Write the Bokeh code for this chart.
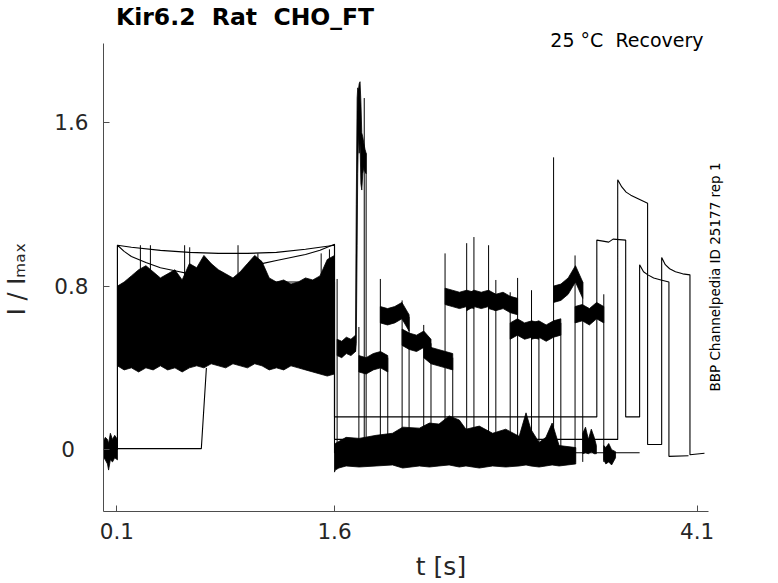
from bokeh.plotting import figure
from bokeh.models import Range1d, FixedTicker, Label
from bokeh.embed import file_html
from bokeh.resources import INLINE

FONT = "DejaVu Sans"
NB = "\u00a0"

# ---------------- data ----------------
x_ticks = [0.1, 1.6, 4.1]
y_ticks = [0, 0.8, 1.6]
x_axis_span = (0.0078, 4.178)
y_axis_span = (-0.3027, 1.986)

# holding noise before the prepulse (0 - 0.1 s)
pre_t  = [0.008, 0.02, 0.035, 0.043, 0.055, 0.07, 0.085, 0.104]
pre_hi = [0.04, 0.06, 0.05, 0.03, 0.08, 0.05, 0.07, 0.05]
pre_lo = [-0.04, -0.05, -0.07, -0.10, -0.05, -0.06, -0.04, -0.05]

# envelope of the noisy prepulse sweeps (0.1 - 1.6 s)
pp_t  = [0.104, 0.15, 0.2, 0.25, 0.3, 0.35, 0.4, 0.45, 0.5, 0.55, 0.6, 0.65, 0.7, 0.75, 0.8, 0.85,
         0.9, 0.95, 1.0, 1.05, 1.1, 1.15, 1.2, 1.25, 1.3, 1.35, 1.4, 1.45, 1.5, 1.55, 1.6]
pp_hi = [0.80, 0.82, 0.85, 0.88, 0.90, 0.87, 0.84, 0.86, 0.88, 0.83, 0.91, 0.89, 0.95, 0.91, 0.88, 0.86,
         0.84, 0.87, 0.91, 0.95, 0.92, 0.84, 0.82, 0.83, 0.81, 0.82, 0.84, 0.83, 0.85, 0.93, 0.95]
pp_lo = [0.41, 0.39, 0.40, 0.38, 0.40, 0.39, 0.41, 0.39, 0.40, 0.38, 0.40, 0.41, 0.40, 0.42, 0.41, 0.40,
         0.42, 0.41, 0.40, 0.42, 0.41, 0.39, 0.40, 0.39, 0.41, 0.40, 0.39, 0.38, 0.37, 0.36, 0.37]

# thin transients on top of the prepulse
pp_spike_t   = [0.262, 0.331, 0.567, 0.602, 0.935, 1.072, 1.508, 1.565]
pp_spike_top = [1.0, 1.0, 1.0, 0.99, 1.0, 0.96, 0.96, 0.98]

# noisy holding current after the prepulse
bl_t  = [1.6, 1.605, 1.63, 1.68, 1.77, 1.887, 2.0, 2.07, 2.185, 2.254, 2.32, 2.39, 2.46, 2.506,
         2.598, 2.69, 2.78, 2.873, 2.92, 2.953, 3.01, 3.057, 3.10, 3.148, 3.263]
bl_hi = [0.03, 0.03, 0.04, 0.06, 0.055, 0.07, 0.08, 0.11, 0.105, 0.13, 0.125, 0.165, 0.145, 0.10,
         0.115, 0.08, 0.10, 0.065, 0.18, 0.10, 0.035, 0.06, 0.13, 0.02, 0.01]
bl_lo = [-0.11, -0.10, -0.09, -0.08, -0.085, -0.08, -0.075, -0.09, -0.08, -0.085, -0.08, -0.075,
         -0.085, -0.08, -0.09, -0.08, -0.085, -0.08, -0.075, -0.08, -0.085, -0.08, -0.075, -0.08, -0.07]

# holding noise after the last noisy test pulses
b11_t  = [3.311, 3.33, 3.35, 3.37, 3.39, 3.405]
b11_hi = [0.08, 0.11, 0.05, 0.10, 0.06, 0.02]
b11_lo = [-0.02, -0.015, -0.02, -0.01, -0.02, -0.02]
b12_t  = [3.456, 3.47, 3.49, 3.51, 3.537]
b12_hi = [0.02, 0.01, 0.03, 0.0, -0.01]
b12_lo = [-0.05, -0.07, -0.06, -0.075, -0.04]

# artefact on the first test pulse
art_t  = [1.745, 1.750, 1.756, 1.760, 1.765, 1.770, 1.776, 1.782, 1.788, 1.795, 1.802, 1.81, 1.818]
art_hi = [0.60, 1.20, 1.72, 1.77, 1.76, 1.79, 1.80, 1.70, 1.55, 1.53, 1.50, 1.47, 1.45]
art_lo = [0.48, 0.52, 1.00, 1.35, 1.55, 1.45, 1.50, 1.30, 1.27, 1.35, 1.38, 1.36, 1.35]
art_line_t = [1.805]
art_line_top = [1.72]

# noisy test pulses (12 sweeps)
p2_start = [1.618, 1.768, 1.916, 2.066, 2.215, 2.362, 2.511, 2.662, 2.811, 2.958, 3.110, 3.258]
p2_end   = [1.818, 1.967, 2.114, 2.265, 2.415, 2.561, 2.712, 2.862, 3.009, 3.160, 3.311, 3.456]
p2_level = [
    [0.50, 0.49, 0.51, 0.50, 0.52],
    [0.42, 0.41, 0.43, 0.44, 0.42],
    [0.66, 0.65, 0.66, 0.68, 0.62],
    [0.55, 0.53, 0.52, 0.54, 0.50],
    [0.49, 0.46, 0.45, 0.44, 0.43],
    [0.75, 0.74, 0.73, 0.74, 0.73],
    [0.72, 0.74, 0.73, 0.74, 0.72],
    [0.73, 0.72, 0.73, 0.71, 0.70],
    [0.58, 0.60, 0.58, 0.59, 0.58],
    [0.58, 0.59, 0.57, 0.59, 0.60],
    [0.76, 0.77, 0.80, 0.86, 0.78],
    [0.66, 0.67, 0.65, 0.68, 0.66],
]
p2_noise = 0.04
p2_start_peak = [0.835, 0.60, 0.835, 0.73, 0.61, 0.96, 1.01, 1.0, 0.77, 0.78, 1.43, 0.95]
p2_end_top    = [1.45, 0.45, 0.65, 0.52, 0.45, 1.04, 0.83, 0.84, 0.62, 0.62, 0.82, 0.76]
trans_bottom = -0.06

# clean sweeps
swA_t = [0.104, 0.104, 0.2, 0.4, 0.6, 0.8, 1.0, 1.2, 1.4, 1.6, 1.6, 3.408, 3.408, 3.45, 3.49, 3.52,
         3.607, 3.607, 3.703, 3.703, 3.73, 3.76, 3.80, 3.85, 3.905, 3.905, 4.04]
swA_v = [0.0, 1.0, 0.99, 0.975, 0.965, 0.96, 0.96, 0.965, 0.98, 1.0, 0.16, 0.16, 1.025, 1.02, 1.015, 1.03,
         1.025, 0.16, 0.16, 0.905, 0.87, 0.855, 0.84, 0.83, 0.82, -0.033, -0.03]
swB_t = [1.05, 1.1, 1.2, 1.3, 1.4, 1.5, 1.6, 1.6, 3.552, 3.552, 3.58, 3.61, 3.642, 3.70, 3.758, 3.758,
         3.855, 3.855, 3.88, 3.91, 3.95, 4.00, 4.05, 4.05, 4.15]
swB_v = [0.90, 0.91, 0.925, 0.94, 0.955, 0.975, 1.005, 0.05, 0.05, 1.32, 1.285, 1.26, 1.245, 1.225, 1.205,
         0.025, 0.025, 0.94, 0.905, 0.885, 0.87, 0.86, 0.855, -0.025, -0.018]
swC_t = [0.104, 0.104, 0.15, 0.2, 0.3, 0.4, 0.5, 0.6, 0.7, 0.8, 0.9, 1.0, 1.6, 1.6, 3.703]
swC_v = [0.0, 1.0, 0.97, 0.945, 0.915, 0.89, 0.875, 0.86, 0.85, 0.84, 0.83, 0.82, 0.82, -0.015, -0.015]
swD_t = [0.104, 0.682, 0.717]
swD_v = [0.005, 0.005, 0.40]

# ---------------- figure ----------------
# the frame reaches the top and right edges of the canvas, so that the
# title and side notes are drawn inside it; the axis lines are bounded.
W, H = 778, 583
LEFT, BOTTOM = 102, 71
px_per_s = 145.3
px_per_unit = 204.8
x0 = x_axis_span[0]
y0 = y_axis_span[0]
x1 = x0 + (W - LEFT) / px_per_s
y1 = y0 + (H - BOTTOM) / px_per_unit

p = figure(width=W, height=H, output_backend="svg", toolbar_location=None,
           x_range=Range1d(x0, x1), y_range=Range1d(y0, y1),
           min_border_left=LEFT, min_border_right=0, min_border_top=0, min_border_bottom=BOTTOM)
p.background_fill_color = "white"
p.border_fill_color = "white"
p.outline_line_color = None
p.xgrid.visible = False
p.ygrid.visible = False

for ax in (p.xaxis[0], p.yaxis[0]):
    ax.axis_line_color = "#4d4d4d"
    ax.axis_line_width = 1
    ax.major_tick_line_color = "#4d4d4d"
    ax.major_tick_in = 6
    ax.major_tick_out = 0
    ax.minor_tick_line_color = None
    ax.major_label_text_font = FONT
    ax.major_label_text_font_size = "21.5px"
    ax.major_label_text_color = "#262626"
    ax.axis_label_text_font = FONT
    ax.axis_label_text_font_style = "normal"
    ax.axis_label_text_color = "#262626"
p.xaxis.ticker = FixedTicker(ticks=x_ticks)
p.yaxis.ticker = FixedTicker(ticks=y_ticks)
p.xaxis.bounds = x_axis_span
p.yaxis.bounds = y_axis_span
p.xaxis.major_label_standoff = 11
p.yaxis.major_label_standoff = 15
p.yaxis.major_label_overrides = {0: "0\u2007"}
p.xaxis.axis_label = "t [s]"
p.xaxis.axis_label_text_font_size = "25px"
p.xaxis.axis_label_standoff = 10
# trailing no-break spaces move the centred label down to the middle of the axis
p.yaxis.axis_label = "I / I\u2098\u2090\u2093" + NB * 6
p.yaxis.axis_label_text_font_size = "24px"
p.yaxis.axis_label_standoff = 20

# noisy bands
def band(ts, lo, hi):
    return list(ts) + list(ts)[::-1], list(hi) + list(lo)[::-1]

xs, ys = [], []
for ts, lo, hi in [(pre_t, pre_lo, pre_hi), (pp_t, pp_lo, pp_hi), (bl_t, bl_lo, bl_hi),
                   (b11_t, b11_lo, b11_hi), (b12_t, b12_lo, b12_hi), (art_t, art_lo, art_hi)]:
    bx, by = band(ts, lo, hi)
    xs.append(bx)
    ys.append(by)

for i in range(len(p2_start)):
    t0 = p2_start[i]
    t1 = art_t[0] if i == 0 else p2_end[i]
    n = len(p2_level[i])
    ts = [t0 + (t1 - t0) * k / (n - 1) for k in range(n)]
    lo = [v - p2_noise for v in p2_level[i]]
    hi = [v + p2_noise for v in p2_level[i]]
    bx, by = band(ts, lo, hi)
    xs.append(bx)
    ys.append(by)

p.patches(xs, ys, fill_color="black", line_color="black", line_width=0.8)

# transients: pulse onsets and ends
seg_x = p2_start + p2_end + pp_spike_t + art_line_t
seg_y0 = ([trans_bottom] * len(p2_start) + [trans_bottom] * len(p2_end)
          + [0.8] * len(pp_spike_t) + [trans_bottom] * len(art_line_t))
seg_y1 = p2_start_peak + p2_end_top + pp_spike_top + art_line_top
p.segment(x0=seg_x, y0=seg_y0, x1=seg_x, y1=seg_y1, line_color="black", line_width=1)

# clean sweeps
p.multi_line([swA_t, swB_t, swC_t, swD_t], [swA_v, swB_v, swC_v, swD_v],
             line_color="black", line_width=1.1)

# ---------------- texts inside the frame ----------------
def lab(x, y, text, size, **kw):
    p.add_layout(Label(x=x, y=y, x_units="screen", y_units="screen", text=text,
                       text_font=FONT, text_font_size=size, text_color="black", **kw))

lab(12.5, 494.5, "Kir6.2" + NB * 2 + "Rat" + NB * 2 + "CHO_FT", "23.5px", text_font_style="bold",
    text_align="left", text_baseline="alphabetic")
lab(600.0, 471.5, "25 \u00b0C" + NB * 2 + "Recovery", "19px",
    text_align="right", text_baseline="alphabetic")
lab(611.5, 234.5, "BBP Channelpedia ID 25177 rep 1", "13.5px",
    text_align="center", text_baseline="alphabetic", angle=90, angle_units="deg")

open("out.html", "w").write(file_html(p, INLINE))
